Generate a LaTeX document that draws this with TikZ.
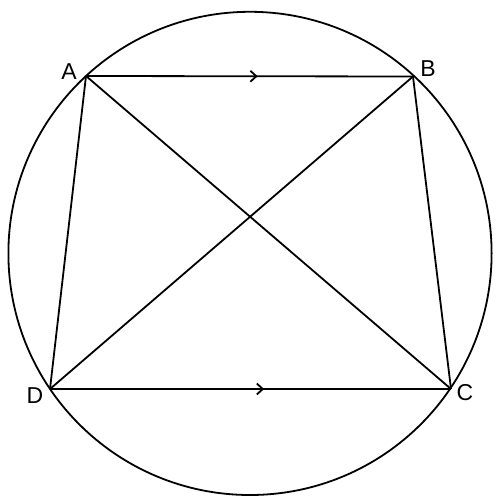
\documentclass[tikz,border=0pt]{standalone}
\usepackage{fontspec}
\setmainfont{Liberation Sans}
\usetikzlibrary{arrows.meta,decorations.markings}
\begin{document}
\begin{tikzpicture}[x=1pt,y=-1pt,
  edge/.style={line width=1.8pt},
  lbl/.style={font=\fontsize{23}{25}\selectfont, inner sep=0pt},
  midarrow/.style={postaction={decorate,decoration={markings,
     mark=at position #1 with {\arrow{Straight Barb[length=6pt,width=11pt,line width=1.8pt]}}}}}]
\useasboundingbox (0,0) rectangle (504,503);
\coordinate (O) at (250,253.4);
\coordinate (A) at (86,76);
\coordinate (B) at (413,76.5);
\coordinate (C) at (451,389);
\coordinate (D) at (50,389);
\draw[edge] (O) circle (241.6);
\draw[edge,midarrow=0.525] (A) -- (B);
\draw[edge,midarrow=0.534] (D) -- (C);
\draw[edge] (A) -- (D);
\draw[edge] (B) -- (C);
\draw[edge] (A) -- (C);
\draw[edge] (B) -- (D);
\node[lbl] (la) at (69,72) {A};
\node[lbl] (lb) at (428,69) {B};
\node[lbl] (lc) at (465,393) {C};
\node[lbl] (ld) at (35,396) {D};
\end{tikzpicture}
\end{document}
